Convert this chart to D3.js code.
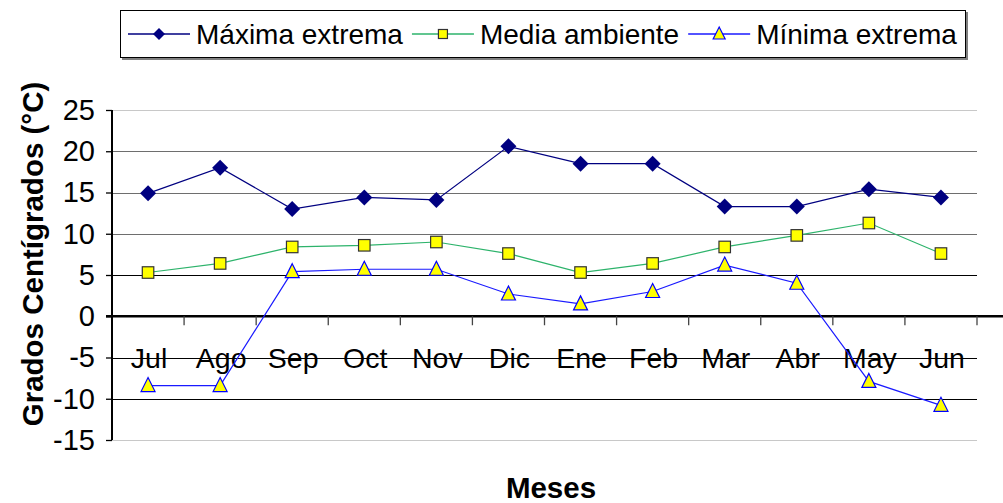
<!DOCTYPE html>
<html><head><meta charset="utf-8">
<script src="https://cdn.jsdelivr.net/npm/d3@7"></script>
<style>body{margin:0;background:#fff}svg{display:block}text{font-family:Arial,"Liberation Sans",sans-serif}</style>
</head><body>
<svg id="c" width="1003" height="503"></svg>
<script>
const months = ["Jul","Ago","Sep","Oct","Nov","Dic","Ene","Feb","Mar","Abr","May","Jun"];
const maxima = [14.9,18.0,13.0,14.4,14.1,20.6,18.5,18.5,13.3,13.3,15.4,14.4];
const media = [5.3,6.4,8.4,8.6,9.0,7.6,5.3,6.4,8.4,9.8,11.3,7.6];
const minima = [-8.4,-8.4,5.4,5.7,5.7,2.7,1.5,3.0,6.2,4.0,-7.9,-10.8];
const yTicks = [25,20,15,10,5,0,-5,-10,-15];
const seriesNames = ["Máxima extrema","Media ambiente","Mínima extrema"];

const svg = d3.select("#c");
const L=112, R=977, T=110, B=440;
const x = d3.scaleBand().domain(months).range([L,R]).padding(0);
const y = d3.scaleLinear().domain([-15,25]).range([B,T]);
const cx = m => x(m)+x.bandwidth()/2;

// gridlines
svg.append("g").selectAll("line").data(yTicks.filter(v=>v!==0)).join("line")
  .attr("x1",L).attr("x2",R).attr("y1",d=>Math.round(y(d))+0.5).attr("y2",d=>Math.round(y(d))+0.5)
  .attr("stroke",d=>(d===25||d===-15)?"#c8c8c8":(d>5?"#6e6e6e":"#000"))
  .attr("stroke-width",1.2);

// y axis
const yAxis = d3.axisLeft(y).tickValues(yTicks).tickSize(6).tickPadding(8).tickFormat(d=>String(d));
const ga = svg.append("g").attr("transform",`translate(${L},0)`).call(yAxis);
ga.select(".domain").attr("stroke","#000").attr("stroke-width",2).attr("d",`M0,${T}V${B}`);
ga.selectAll(".tick line").attr("stroke","#000").attr("stroke-width",1.3);
ga.selectAll(".tick text").attr("font-size",29).attr("fill","#000").attr("font-family","Arial, Liberation Sans, sans-serif").attr("dx",-3);

// x axis at zero
const y0 = y(0);
svg.append("line").attr("x1",L-6).attr("x2",1003).attr("y1",y0).attr("y2",y0).attr("stroke","#000").attr("stroke-width",2.6);
svg.append("g").selectAll("line").data(months).join("line")
  .attr("x1",d=>x(d)+x.bandwidth()).attr("x2",d=>x(d)+x.bandwidth())
  .attr("y1",y0).attr("y2",y0+9).attr("stroke","#444").attr("stroke-width",1.3);
svg.append("g").selectAll("text").data(months).join("text")
  .attr("x",d=>cx(d)+1).attr("y",y(-5)+10).attr("text-anchor","middle")
  .attr("font-size",28.5).attr("fill","#000").text(d=>d);

// series
const line = d3.line().x((d,i)=>cx(months[i])).y(d=>y(d));
function drawSeries(vals,color,sw,marker){
  svg.append("path").datum(vals).attr("d",line).attr("fill","none").attr("stroke",color).attr("stroke-width",sw);
  const g = svg.append("g");
  vals.forEach((v,i)=>{
    marker(g, cx(months[i]), y(v));
  });
}
const diamond=(g,px,py,s=8)=>g.append("path").attr("d",`M${px},${py-s}L${px+s},${py}L${px},${py+s}L${px-s},${py}Z`).attr("fill","#000080");
const square=(g,px,py,s=11.5)=>g.append("rect").attr("x",px-s/2).attr("y",py-s/2).attr("width",s).attr("height",s).attr("fill","#ffff00").attr("stroke","#333").attr("stroke-width",1.2);
const tri=(g,px,py,s=7)=>g.append("path").attr("d",`M${px},${py-s-1}L${px+s},${py+s-1}L${px-s},${py+s-1}Z`).attr("fill","#ffff00").attr("stroke","#0000ff").attr("stroke-width",1.2);

drawSeries(media,"#2db36b",1.2,square);
drawSeries(minima,"#1a1aff",1.2,tri);
drawSeries(maxima,"#000080",1.2,diamond);

// axis titles
svg.append("text").attr("transform",`translate(43,254) rotate(-90)`).attr("text-anchor","middle")
  .attr("font-size",29.5).attr("font-weight","bold").text("Grados Centígrados (°C)");
svg.append("text").attr("x",551).attr("y",498).attr("text-anchor","middle")
  .attr("font-size",29.5).attr("font-weight","bold").text("Meses");

// legend
const lg = svg.append("g");
lg.append("rect").attr("x",122).attr("y",12).attr("width",846).attr("height",48).attr("fill","#808080");
lg.append("rect").attr("x",120.5).attr("y",10.5).attr("width",845).attr("height",47).attr("fill","#fff").attr("stroke","#000").attr("stroke-width",1);
const colors=["#000080","#2db36b","#1a1aff"];
const markers=[diamond,square,tri];
let lx=128;
seriesNames.forEach((n,i)=>{
  const ly=34;
  lg.append("line").attr("x1",lx).attr("x2",lx+62).attr("y1",ly).attr("y2",ly).attr("stroke",colors[i]).attr("stroke-width",1.3);
  markers[i](lg,lx+31,ly,i===1?9:6);
  const t=lg.append("text").attr("x",lx+68).attr("y",ly+10).attr("font-size",28).attr("fill","#000").text(n);
  lx = lx+68+t.node().getComputedTextLength()+9;
});
</script>
</body></html>
